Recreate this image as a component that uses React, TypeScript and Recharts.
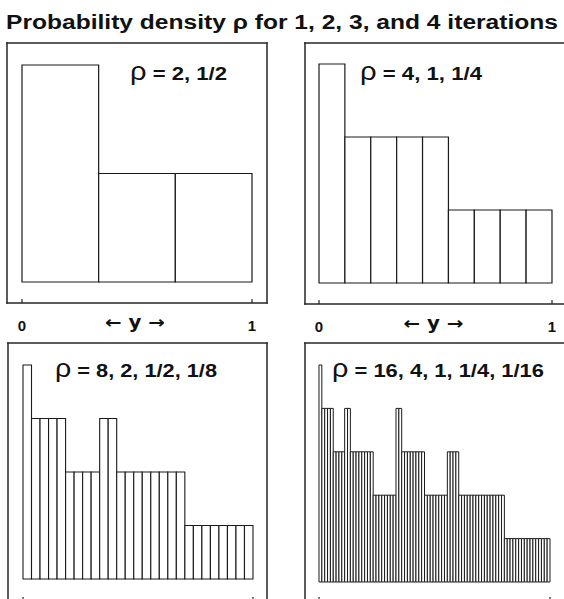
import React from 'react';
import { BarChart, Bar, XAxis, YAxis } from 'recharts';

// ---------- data ----------
const TITLE = 'Probability density ρ for 1, 2, 3, and 4 iterations';
const AXIS_LABEL = '← y →';
const X_TICKS = [0, 1];

const density1 = [2, 0.5, 0.5];
const density2 = [4, 1, 1, 1, 1, 0.25, 0.25, 0.25, 0.25];
const density3 = [
  8, 2, 2, 2, 2, 0.5, 0.5, 0.5, 0.5, 2, 2,
  0.5, 0.5, 0.5, 0.5, 0.5, 0.5, 0.5, 0.5,
  0.125, 0.125, 0.125, 0.125, 0.125, 0.125, 0.125, 0.125,
];
const density4 = [
  16, 4, 4, 4, 4, 1, 1, 1, 1, 4, 4,
  1, 1, 1, 1, 1, 1, 1, 1,
  0.25, 0.25, 0.25, 0.25, 0.25, 0.25, 0.25, 0.25,
  4, 4,
  1, 1, 1, 1, 1, 1, 1, 1,
  0.25, 0.25, 0.25, 0.25, 0.25, 0.25, 0.25, 0.25,
  1, 1, 1, 1,
  0.25, 0.25, 0.25, 0.25, 0.25, 0.25, 0.25, 0.25,
  0.25, 0.25, 0.25, 0.25, 0.25, 0.25, 0.25, 0.25,
  0.0625, 0.0625, 0.0625, 0.0625, 0.0625, 0.0625, 0.0625, 0.0625,
  0.0625, 0.0625, 0.0625, 0.0625, 0.0625, 0.0625, 0.0625, 0.0625,
];

const yTicks1 = [0.125, 0.5, 2];
const yTicks2 = [0.0625, 0.25, 1, 4];
const yTicks3 = [0.03125, 0.125, 0.5, 2, 8];
const yTicks4 = [0.015625, 0.0625, 0.25, 1, 4, 16];

const rhoValues1 = '2, 1/2';
const rhoValues2 = '4, 1, 1/4';
const rhoValues3 = '8, 2, 1/2, 1/8';
const rhoValues4 = '16, 4, 1, 1/4, 1/16';

// ---------- layout / style ----------
const FONT = '"Liberation Sans", Arial, Helvetica, sans-serif';
const ARROW_FONT = '"DejaVu Sans", "Liberation Sans", sans-serif';
const FRAME = '#262626';
const frameLine = { stroke: FRAME, strokeWidth: 1.5, strokeLinecap: 'square' as const };
const tickLineStyle = { stroke: FRAME, strokeWidth: 1.2 };

type PanelCfg = {
  data: number[];
  ticks: number[];
  rho: string;
  fx: number; fy: number; fw: number; fh: number;
  pad: { l: number; r: number; t: number; b: number };
  tx: number; ty: number; tw: number;
  labels: boolean;
  barStroke: number;
};

const PANELS: PanelCfg[] = [
  { data: density1, ticks: yTicks1, rho: rhoValues1, fx: 7, fy: 43, fw: 260, fh: 260,
    pad: { l: 15, r: 15, t: 22, b: 21 }, tx: 130, ty: 80, tw: 97, labels: true, barStroke: 1.2 },
  { data: density2, ticks: yTicks2, rho: rhoValues2, fx: 305, fy: 43, fw: 261, fh: 261,
    pad: { l: 14, r: 14, t: 21, b: 21 }, tx: 360, ty: 80, tw: 122, labels: true, barStroke: 1.2 },
  { data: density3, ticks: yTicks3, rho: rhoValues3, fx: 8, fy: 343, fw: 259, fh: 258,
    pad: { l: 15, r: 14, t: 22, b: 22 }, tx: 55, ty: 377, tw: 162, labels: false, barStroke: 1.1 },
  { data: density4, ticks: yTicks4, rho: rhoValues4, fx: 305, fy: 343, fw: 261, fh: 258,
    pad: { l: 14, r: 16, t: 22, b: 19 }, tx: 332, ty: 377, tw: 212, labels: false, barStroke: 1 },
];

const M = 6;
const AX_H = 40;

const BottomTick = (props: any) => {
  const { x, y, payload, showLabel } = props;
  return (
    <g>
      <line x1={x} x2={x} y1={y} y2={y - 4} stroke={FRAME} strokeWidth={1.2} />
      {showLabel && (
        <text x={x} y={y + 28} textAnchor="middle" fontFamily={FONT} fontWeight="bold" fontSize={15} fill="#111">
          {payload.value}
        </text>
      )}
    </g>
  );
};

const AxisLabel = (props: any) => {
  const vb = props.viewBox || {};
  return (
    <text x={vb.x + vb.width / 2 - 2} y={vb.y + 25} textAnchor="middle" fontFamily={ARROW_FONT}
      fontWeight="bold" fontSize={17} fill="#111" textLength={60} lengthAdjust="spacingAndGlyphs">
      {AXIS_LABEL}
    </text>
  );
};

function Panel({ p }: { p: PanelCfg }) {
  const n = p.data.length;
  const rows = p.data.map((v, i) => ({ x: (i + 0.5) / n, v }));
  const plotW = p.fw - p.pad.l - p.pad.r;
  const barSize = plotW / n - 0.01;
  const lo = p.ticks[0];
  const hi = p.ticks[p.ticks.length - 1];
  const xPad = { left: p.pad.l, right: p.pad.r };
  const yPad = { top: p.pad.t, bottom: p.pad.b };
  return (
    <div style={{ position: 'absolute', left: p.fx - M, top: p.fy - M }}>
      <BarChart width={p.fw + 2 * M} height={p.fh + 2 * M + AX_H} data={rows}
        margin={{ top: M, right: M, bottom: M, left: M }} barCategoryGap={0} barGap={0}>
        <XAxis xAxisId="b" dataKey="x" type="number" domain={[0, 1]} ticks={X_TICKS} interval={0}
          padding={xPad} height={AX_H} axisLine={frameLine} tickLine={false} tickSize={0} tickMargin={0}
          tick={(props: any) => <BottomTick {...props} showLabel={p.labels} />}
          label={p.labels ? (props: any) => <AxisLabel {...props} /> : undefined} />
        <XAxis xAxisId="t" orientation="top" type="number" domain={[0, 1]} ticks={X_TICKS} interval={0}
          padding={xPad} mirror tick={false} tickSize={4} tickLine={tickLineStyle} axisLine={frameLine} />
        <YAxis yAxisId="l" type="number" scale="log" domain={[lo, hi]} ticks={p.ticks} interval={0}
          padding={yPad} mirror tick={false} tickSize={4} tickLine={tickLineStyle} axisLine={frameLine} />
        <YAxis yAxisId="r" orientation="right" type="number" scale="log" domain={[lo, hi]} ticks={p.ticks}
          interval={0} padding={yPad} mirror tick={false} tickSize={4} tickLine={tickLineStyle} axisLine={frameLine} />
        <Bar xAxisId="b" yAxisId="l" dataKey="v" fill="#ffffff" stroke="#1a1a1a" strokeWidth={p.barStroke}
          barSize={barSize} isAnimationActive={false} />
      </BarChart>
    </div>
  );
}

export default function App() {
  return (
    <div style={{ position: 'absolute', left: 0, top: 0, width: 564, height: 599, overflow: 'hidden', background: '#fff' }}>
      {PANELS.map((p, i) => <Panel key={i} p={p} />)}
      <svg width={564} height={599} style={{ position: 'absolute', left: 0, top: 0, pointerEvents: 'none' }}>
        <text x={6} y={29} fontFamily={FONT} fontWeight="bold" fontSize={20} fill="#111"
          textLength={552} lengthAdjust="spacingAndGlyphs">{TITLE}</text>
        {PANELS.map((p, i) => (
          <text key={i} x={p.tx} y={p.ty} fontFamily={FONT} fontWeight="bold" fontSize={19} fill="#111"
            textLength={p.tw} lengthAdjust="spacingAndGlyphs">
            <tspan fontSize={25} fontWeight="normal">ρ</tspan>{' = ' + p.rho}
          </text>
        ))}
      </svg>
    </div>
  );
}
